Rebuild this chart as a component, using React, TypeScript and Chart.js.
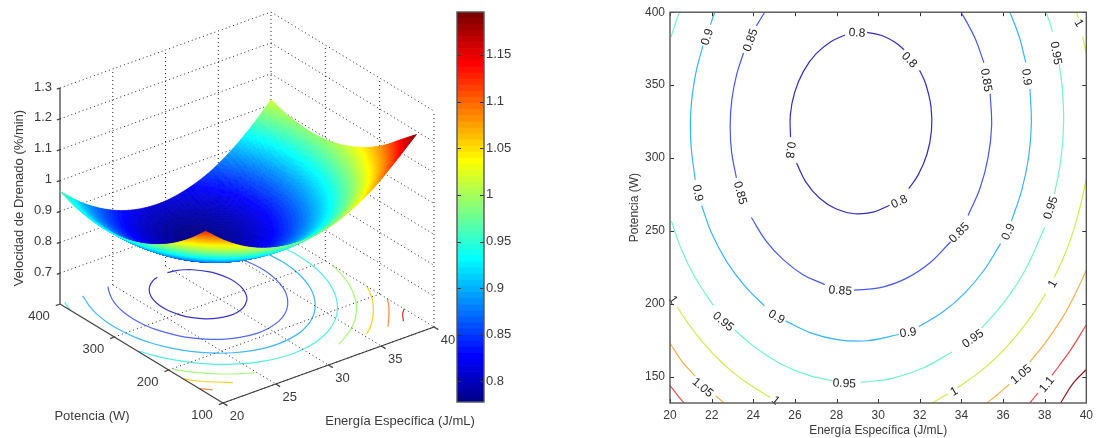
import React, { useEffect, useRef } from "react";
import { Chart, registerables } from "chart.js";

Chart.register(...registerables);
Chart.defaults.font.family = '"Liberation Sans", Arial, sans-serif';

// ---------- data ----------
const energyGrid = [20, 22, 24, 26, 28, 30, 32, 34, 36, 38, 40];
const powerGrid = [132, 160, 190, 220, 250, 280, 310, 340, 370, 400];
const z132 = [1.122, 1.065, 1.022, 0.994, 0.98, 0.98, 0.995, 1.025, 1.068, 1.127, 1.19];
const z160 = [1.069, 1.012, 0.969, 0.94, 0.926, 0.926, 0.941, 0.97, 1.014, 1.072, 1.144];
const z190 = [1.022, 0.964, 0.921, 0.892, 0.878, 0.878, 0.892, 0.921, 0.964, 1.022, 1.094];
const z220 = [0.985, 0.927, 0.883, 0.854, 0.84, 0.839, 0.853, 0.882, 0.925, 0.982, 1.054];
const z250 = [0.957, 0.899, 0.855, 0.826, 0.811, 0.81, 0.824, 0.852, 0.895, 0.952, 1.024];
const z280 = [0.939, 0.881, 0.837, 0.807, 0.792, 0.791, 0.805, 0.833, 0.875, 0.932, 1.003];
const z310 = [0.931, 0.872, 0.828, 0.798, 0.783, 0.781, 0.795, 0.822, 0.865, 0.921, 0.992];
const z340 = [0.933, 0.874, 0.829, 0.799, 0.783, 0.782, 0.795, 0.822, 0.864, 0.92, 0.991];
const z370 = [0.944, 0.885, 0.84, 0.809, 0.793, 0.791, 0.804, 0.831, 0.873, 0.929, 0.999];
const z400 = [0.965, 0.905, 0.86, 0.829, 0.813, 0.811, 0.824, 0.85, 0.892, 0.948, 1.016];
const surfaceZ = [z132, z160, z190, z220, z250, z280, z310, z340, z370, z400];

const contour080 = [
  [[28.41, 384.4], [27.74, 379.9], [27.0, 371.2], [26.41, 359.4], [25.99, 345.1], [25.78, 329.4], [25.79, 314.2]],
  [[26.08, 296.5], [26.53, 283.5], [27.19, 272.4], [27.99, 265], [28.87, 261.8], [29.76, 262.9], [30.55, 267.6]],
  [[31.47, 279], [31.93, 288.6], [32.35, 302.9], [32.56, 318.6], [32.54, 334.9], [32.29, 350.6], [31.99, 360.2]],
  [[31.25, 374.3], [30.79, 379.5], [30.17, 384], [29.47, 386.2]],
];
const contour085 = [
  [[24.55, 400], [24.15, 390.6]],
  [[23.53, 372], [23.2, 357.2], [22.97, 339.9], [22.89, 322], [22.96, 304], [23.19, 286.4]],
  [[23.91, 259.2], [24.6, 243.4], [25.44, 230.3], [26.39, 220], [27.43, 213.2]],
  [[28.84, 209.4], [30.04, 210.9], [31.3, 217.1], [32.46, 227.8], [33.48, 242.6]],
  [[34.32, 260.6], [34.9, 279.6], [35.28, 300.3], [35.45, 322], [35.38, 344]],
  [[35.08, 365.3], [34.66, 381.9], [34.17, 395.4], [33.97, 400]],
];
const contour090 = [
  [[22.15, 400], [21.94, 391.3]],
  [[21.58, 377.1], [21.23, 357.5], [21.01, 334.4], [21.0, 311], [21.21, 285]],
  [[21.52, 267.4], [22.0, 248.4], [22.73, 228.8], [23.63, 211.6], [24.54, 198.6]],
  [[25.55, 188.3], [26.76, 180.1], [28.03, 175.5], [29.46, 174.7], [31.0, 179]],
  [[31.95, 184.4], [33.1, 194.4], [34.16, 207.4], [35.09, 223.2], [35.88, 241.3]],
  [[36.4, 256.7], [36.9, 278.1], [37.23, 300.7], [37.36, 324], [37.29, 347.4]],
  [[37.09, 365.5], [36.78, 383], [36.33, 400]],
];
const contour095a = [[[20.45, 400], [20.25, 392], [20.05, 383]]];
const contour095 = [
  [[20.07, 256.7], [20.56, 236.9], [21.2, 218.2], [22.08, 198.9]],
  [[23.1, 182.2], [24.1, 170], [25.33, 158.8], [26.63, 151.1], [27.81, 147.3]],
  [[29.17, 146.1], [30.68, 148.9], [32.16, 156], [33.55, 167]],
  [[34.97, 183.4], [36.09, 201.8], [37.06, 223], [37.99, 252.2]],
  [[38.47, 275.2], [38.78, 299.4], [38.91, 324], [38.84, 348.8], [38.7, 364.2]],
  [[38.37, 386.7], [38.22, 394.1], [38.07, 400]],
];
const contour100a = [
  [[20.35, 198], [20.71, 189.8], [21.25, 179.4], [21.82, 169.6], [22.43, 160.6], [23.07, 152.5], [23.75, 145.3], [24.82, 135.8]],
];
const contour100b = [
  [[40, 286], [39.74, 268.5], [39.35, 248.8], [38.94, 233], [38.46, 218]],
  [[38.05, 207], [37.43, 192.9], [36.63, 178], [35.76, 164.3], [34.81, 152.5], [33.81, 142.5]],
  [[33.35, 138.4], [32.62, 132.2]],
];
const contour100c = [
  [[39.53, 400], [39.62, 396]],
  [[39.82, 383.4], [39.97, 373.2], [40, 371]],
];
const contour105a = [
  [[20, 173], [20.55, 161.1], [21.2, 150.5]],
  [[22.2, 137], [22.58, 132.2]],
];
const contour105b = [
  [[40, 223], [39.46, 206.6], [38.86, 190.7], [38.02, 173.1], [37.28, 160]],
  [[36.3, 144.9], [35.75, 138], [35.24, 132.2]],
];
const contour110a = [[[20, 144], [20.3, 138.5], [20.66, 132.2]]];
const contour110b = [
  [[40, 185.7], [39.28, 169.1], [38.65, 156.7], [38.34, 150.9]],
  [[37.68, 139], [37.3, 132.2]],
];
const contour115 = [[[40, 155], [39.39, 145.9], [38.77, 132.2]]];

const contourGroups = [
  { parts: [contour080], right: "#2f2fc0", left: "#3535c8" },
  { parts: [contour085], right: "#4458f5", left: "#5068ff" },
  { parts: [contour090], right: "#35b5ff", left: "#40b8ff" },
  { parts: [contour095a], right: "#70f5cc", left: "#50f0e0" },
  { parts: [contour095], right: "#70f5cc", left: "#50f0e0" },
  { parts: [contour100a], right: "#c8f048", left: "#a8f878" },
  { parts: [contour100b], right: "#c8f048", left: "#a8f878" },
  { parts: [contour100c], right: "#c8f048", left: "#a8f878" },
  { parts: [contour105a], right: "#f8b048", left: "#ffd020" },
  { parts: [contour105b], right: "#f8b048", left: "#ffd020" },
  { parts: [contour110a], right: "#f04848", left: "#ff8848" },
  { parts: [contour110b], right: "#f04848", left: "#ff8848" },
  { parts: [contour115], right: "#901818", left: "#e02828" },
];

// text, energy, power, rotation in degrees
const contourLabels: [string, number, number, number][] = [
  ["0.8", 28.98, 385.6, 3], ["0.8", 31.49, 367.1, 45], ["0.8", 25.77, 305.5, 97], ["0.8", 31.02, 269.9, -25],
  ["0.85", 23.88, 380.8, -70], ["0.85", 23.36, 276, 75], ["0.85", 28.18, 208.9, 5], ["0.85", 33.9, 248.6, -45], ["0.85", 35.18, 353.4, 80],
  ["0.9", 21.8, 382.9, -72], ["0.9", 21.32, 276, 80], ["0.9", 25.11, 191, 30], ["0.9", 31.44, 180.1, -8], ["0.9", 36.26, 249.3, -65], ["0.9", 37.12, 355.5, 82],
  ["0.95", 22.55, 187.7, 40], ["0.95", 28.37, 145.2, 3], ["0.95", 34.56, 176, -35], ["0.95", 38.3, 265.8, -72], ["0.95", 38.53, 371.9, 80],
  ["1", 39.62, 392.5, 60], ["1", 38.39, 213.7, -60], ["1", 33.66, 139.7, -30], ["1", 20.14, 202.7, 55], ["1", 25.06, 133.6, 40],
  ["1.05", 36.88, 151.4, -40], ["1.05", 21.56, 142.5, 40],
  ["1.1", 38.11, 144.5, -50],
];

const xTicksRight = [20, 22, 24, 26, 28, 30, 32, 34, 36, 38, 40];
const yTicksRight = [150, 200, 250, 300, 350, 400];
const colorbarTicks = [0.8, 0.85, 0.9, 0.95, 1, 1.05, 1.1, 1.15];
const zTicks3d = [0.7, 0.8, 0.9, 1, 1.1, 1.2, 1.3];
const pTicks3d = [400, 300, 200, 100];
const eTicks3d = [20, 25, 30, 35, 40];

const colorMin = 0.778;
const colorMax = 1.196;
const levels = 64;
const textColor = "#3a3a3a";
const frameColor = "#555555";

// ---------- helpers ----------
const clamp01 = (v: number) => Math.max(0, Math.min(1, v));
function jet(i: number) {
  const t = (i + 1) / levels;
  const r = clamp01(Math.min(4 * t - 1.5, -4 * t + 4.5));
  const g = clamp01(Math.min(4 * t - 0.5, -4 * t + 3.5));
  const b = clamp01(Math.min(4 * t + 0.5, -4 * t + 2.5));
  return `rgb(${Math.round(r * 255)},${Math.round(g * 255)},${Math.round(b * 255)})`;
}
const jetColors = Array.from({ length: levels }, (_, i) => jet(i));
function colorOf(z: number) {
  const i = Math.floor(((z - colorMin) / (colorMax - colorMin)) * levels);
  return jetColors[Math.max(0, Math.min(levels - 1, i))];
}

// orthographic view of the 3-D box
function project(e: number, p: number, z: number) {
  const a = (400 - p) / 300;
  const b = (e - 20) / 20;
  const c = (z - 0.6) / 0.7;
  return { x: 60 + a * 163 + b * 211, y: 304 + a * 99 - b * 76 - c * 216 };
}

function flatten(parts: number[][][][], map: (e: number, p: number) => { x: number; y: number }) {
  const out: any[] = [];
  parts.forEach((segments) =>
    segments.forEach((seg) => {
      seg.forEach(([e, p]) => out.push(map(e, p)));
      out.push({ x: null, y: null });
    })
  );
  return out;
}

function catmull(a: number, b: number, c: number, d: number, t: number) {
  return 0.5 * (2 * b + (c - a) * t + (2 * a - 5 * b + 4 * c - d) * t * t + (3 * b - a - 3 * c + d) * t * t * t);
}
function at(arr: number[], i: number) {
  if (i < 0) return 2 * arr[0] - arr[1];
  if (i >= arr.length) return 2 * arr[arr.length - 1] - arr[arr.length - 2];
  return arr[i];
}
function smooth(arr: number[], u: number) {
  const i = Math.min(arr.length - 2, Math.floor(u));
  const t = u - i;
  return catmull(at(arr, i - 1), at(arr, i), at(arr, i + 1), at(arr, i + 2), t);
}

const surfacePlugin = {
  id: "surface",
  afterDatasetsDraw(chart: any) {
    const { ctx, scales } = chart;
    const sub = 16;
    const ne = (energyGrid.length - 1) * sub;
    const np = (powerGrid.length - 1) * sub;
    const nodes: { x: number; y: number; z: number }[][] = [];
    for (let ie = 0; ie <= ne; ie++) {
      const u = ie / sub;
      const e = smooth(energyGrid, u);
      const colAtU = powerGrid.map((_, r) => smooth(surfaceZ[r], u));
      const line: { x: number; y: number; z: number }[] = [];
      for (let ip = 0; ip <= np; ip++) {
        const v = ip / sub;
        const p = smooth(powerGrid, v);
        const z = smooth(colAtU, v);
        const q = project(e, p, z);
        line.push({ x: scales.x.getPixelForValue(q.x), y: scales.y.getPixelForValue(q.y), z });
      }
      nodes.push(line);
    }
    ctx.save();
    ctx.lineWidth = 0.6;
    ctx.lineJoin = "round";
    for (let ie = ne - 1; ie >= 0; ie--) {
      for (let ip = np - 1; ip >= 0; ip--) {
        const a = nodes[ie][ip];
        const b = nodes[ie + 1][ip];
        const c = nodes[ie + 1][ip + 1];
        const d = nodes[ie][ip + 1];
        const col = colorOf((a.z + b.z + c.z + d.z) / 4);
        ctx.fillStyle = col;
        ctx.strokeStyle = col;
        ctx.beginPath();
        ctx.moveTo(a.x, a.y);
        ctx.lineTo(b.x, b.y);
        ctx.lineTo(c.x, c.y);
        ctx.lineTo(d.x, d.y);
        ctx.closePath();
        ctx.fill();
        ctx.stroke();
      }
    }
    ctx.restore();
  },
};

const boxTextPlugin = {
  id: "boxText",
  afterDraw(chart: any) {
    const { ctx, scales } = chart;
    const px = (q: { x: number; y: number }) => ({ x: scales.x.getPixelForValue(q.x), y: scales.y.getPixelForValue(q.y) });
    ctx.save();
    ctx.fillStyle = textColor;
    ctx.font = '13px "Liberation Sans", Arial, sans-serif';
    ctx.textBaseline = "middle";
    ctx.textAlign = "right";
    zTicks3d.forEach((z) => {
      const q = px(project(20, 400, z));
      ctx.fillText(String(z), q.x - 8, q.y - 1);
    });
    ctx.textAlign = "center";
    pTicks3d.forEach((p) => {
      const q = px(project(20, p, 0.6));
      ctx.fillText(String(p), q.x - 21, q.y + 12);
    });
    eTicks3d.forEach((e) => {
      const q = px(project(e, 100, 0.6));
      ctx.fillText(String(e), q.x + 14, q.y + 13);
    });
    ctx.fillText("Potencia (W)", 92, 416);
    ctx.fillText("Energía Específica (J/mL)", 400, 421.5);
    ctx.translate(19, 198);
    ctx.rotate(-Math.PI / 2);
    ctx.fillText("Velocidad de Drenado (%/min)", 0, 0);
    ctx.restore();
  },
};

const frameTicksPlugin = {
  id: "frameTicks",
  afterDraw(chart: any) {
    const { ctx, chartArea: a, scales } = chart;
    const len = 4;
    ctx.save();
    ctx.strokeStyle = "#333333";
    ctx.lineWidth = 1;
    ctx.beginPath();
    if (scales.x.options.display) {
      scales.x.ticks.forEach((t: any) => {
        const x = Math.round(scales.x.getPixelForValue(t.value)) + 0.5;
        ctx.moveTo(x, a.bottom);
        ctx.lineTo(x, a.bottom - len);
        ctx.moveTo(x, a.top);
        ctx.lineTo(x, a.top + len);
      });
    }
    scales.y.ticks.forEach((t: any) => {
      const y = Math.round(scales.y.getPixelForValue(t.value)) + 0.5;
      ctx.moveTo(a.left, y);
      ctx.lineTo(a.left + len, y);
      ctx.moveTo(a.right, y);
      ctx.lineTo(a.right - len, y);
    });
    ctx.stroke();
    ctx.strokeStyle = frameColor;
    ctx.lineWidth = 1.4;
    ctx.strokeRect(a.left, a.top, a.right - a.left, a.bottom - a.top);
    ctx.restore();
  },
};

const contourLabelPlugin = {
  id: "contourLabels",
  afterDatasetsDraw(chart: any) {
    const { ctx, scales } = chart;
    ctx.save();
    ctx.fillStyle = "#222222";
    ctx.font = '12px "Liberation Sans", Arial, sans-serif';
    ctx.textAlign = "center";
    ctx.textBaseline = "middle";
    contourLabels.forEach(([text, e, p, rot]) => {
      ctx.save();
      ctx.translate(scales.x.getPixelForValue(e), scales.y.getPixelForValue(p));
      ctx.rotate((rot * Math.PI) / 180);
      ctx.fillText(text, 0, 0);
      ctx.restore();
    });
    ctx.restore();
  },
};

function boxDatasets() {
  const grid: any[] = [];
  const seg = (a: number[], b: number[]) => {
    grid.push(project(a[0], a[1], a[2]), project(b[0], b[1], b[2]), { x: null, y: null });
  };
  zTicks3d.forEach((z) => {
    seg([20, 400, z], [40, 400, z]);
    seg([40, 400, z], [40, 100, z]);
  });
  eTicks3d.slice(1).forEach((e) => {
    seg([e, 400, 0.6], [e, 400, 1.3]);
    seg([e, 400, 0.6], [e, 100, 0.6]);
  });
  pTicks3d.slice(1).forEach((p) => {
    seg([40, p, 0.6], [40, p, 1.3]);
    seg([20, p, 0.6], [40, p, 0.6]);
  });
  const axes: any[] = [];
  const ax = (a: number[], b: number[]) => {
    axes.push(project(a[0], a[1], a[2]), project(b[0], b[1], b[2]), { x: null, y: null });
  };
  ax([20, 400, 0.6], [20, 400, 1.3]);
  ax([20, 400, 0.6], [20, 100, 0.6]);
  ax([20, 100, 0.6], [40, 100, 0.6]);
  zTicks3d.forEach((z) => ax([20, 400, z], [19.7, 400, z]));
  pTicks3d.forEach((p) => ax([20, p, 0.6], [19.6, p, 0.6]));
  eTicks3d.forEach((e) => ax([e, 100, 0.6], [e, 92, 0.6]));
  return [
    { data: grid, showLine: true, pointRadius: 0, borderColor: "#222222", borderWidth: 1, borderDash: [1, 3] },
    { data: axes, showLine: true, pointRadius: 0, borderColor: "#444444", borderWidth: 1.3 },
  ];
}

export default function App() {
  const leftRef = useRef<HTMLCanvasElement>(null);
  const barRef = useRef<HTMLCanvasElement>(null);
  const rightRef = useRef<HTMLCanvasElement>(null);

  useEffect(() => {
    const left = new Chart(leftRef.current as any, {
      type: "scatter",
      data: {
        datasets: [
          ...boxDatasets(),
          ...contourGroups.map((g) => ({
            data: flatten(g.parts, (e, p) => project(e, p, 0.6)),
            showLine: true,
            spanGaps: true,
            tension: 0.4,
            pointRadius: 0,
            borderColor: g.left,
            borderWidth: 1.2,
          })),
        ],
      } as any,
      options: {
        animation: false,
        responsive: false,
        devicePixelRatio: 1,
        layout: { padding: 0 },
        plugins: { legend: { display: false }, tooltip: { enabled: false } },
        scales: {
          x: { type: "linear", display: false, min: 0, max: 500 },
          y: { type: "linear", display: false, min: 0, max: 438, reverse: true },
        },
      } as any,
      plugins: [surfacePlugin, boxTextPlugin],
    });

    const step = (colorMax - colorMin) / levels;
    const bar = new Chart(barRef.current as any, {
      type: "bar",
      data: {
        labels: ["c"],
        datasets: jetColors.map((color, i) => ({
          data: [[colorMin + i * step, colorMin + (i + 1) * step]],
          backgroundColor: color,
          borderWidth: 0,
          barPercentage: 1,
          categoryPercentage: 1,
          grouped: false,
        })),
      } as any,
      options: {
        animation: false,
        responsive: false,
        devicePixelRatio: 1,
        layout: { padding: { left: 7, top: 12, bottom: 36, right: 0 } },
        plugins: { legend: { display: false }, tooltip: { enabled: false } },
        scales: {
          x: { display: false },
          y: {
            position: "right",
            min: colorMin,
            max: colorMax,
            grid: { display: false, drawTicks: false },
            border: { display: false },
            afterBuildTicks: (s: any) => {
              s.ticks = colorbarTicks.map((value) => ({ value }));
            },
            afterFit: (s: any) => {
              s.width = 46;
            },
            ticks: { autoSkip: false, padding: 2, color: textColor, font: { size: 13 }, callback: (v: any) => String(v) },
          },
        },
      } as any,
      plugins: [frameTicksPlugin],
    });

    const right = new Chart(rightRef.current as any, {
      type: "scatter",
      data: {
        datasets: contourGroups.map((g) => ({
          data: flatten(g.parts, (e, p) => ({ x: e, y: p })),
          showLine: true,
          tension: 0.4,
          pointRadius: 0,
          borderColor: g.right,
          borderWidth: 1.2,
        })),
      } as any,
      options: {
        animation: false,
        responsive: false,
        devicePixelRatio: 1,
        layout: { padding: { left: 0, top: 12, right: 5, bottom: 0 } },
        plugins: { legend: { display: false }, tooltip: { enabled: false } },
        scales: {
          x: {
            type: "linear",
            min: 20,
            max: 40,
            grid: { display: false, drawTicks: false },
            border: { display: false },
            afterBuildTicks: (s: any) => {
              s.ticks = xTicksRight.map((value) => ({ value }));
            },
            afterFit: (s: any) => {
              s.height = 35;
            },
            ticks: { autoSkip: false, maxRotation: 0, padding: 5, color: textColor, font: { size: 12 }, callback: (v: any) => String(v) },
            title: { display: true, text: "Energía Específica (J/mL)", color: textColor, font: { size: 12 }, padding: 0 },
          },
          y: {
            type: "linear",
            min: 132,
            max: 400,
            grid: { display: false, drawTicks: false },
            border: { display: false },
            afterBuildTicks: (s: any) => {
              s.ticks = yTicksRight.map((value) => ({ value }));
            },
            afterFit: (s: any) => {
              s.width = 60;
            },
            ticks: { autoSkip: false, padding: 5, color: textColor, font: { size: 12 }, callback: (v: any) => String(v) },
            title: { display: true, text: "Potencia (W)", color: textColor, font: { size: 12 }, padding: { top: 17, bottom: 0 } },
          },
        },
      } as any,
      plugins: [contourLabelPlugin, frameTicksPlugin],
    });

    return () => {
      left.destroy();
      bar.destroy();
      right.destroy();
    };
  }, []);

  const abs = (l: number): React.CSSProperties => ({ position: "absolute", left: l, top: 0, display: "block" });
  return (
    <div style={{ position: "absolute", left: 0, top: 0, width: 1098, height: 438, background: "#fff", overflow: "hidden" }}>
      <canvas ref={leftRef} width={500} height={438} style={abs(0)} />
      <canvas ref={barRef} width={80} height={438} style={abs(450)} />
      <canvas ref={rightRef} width={488} height={438} style={abs(610)} />
    </div>
  );
}
